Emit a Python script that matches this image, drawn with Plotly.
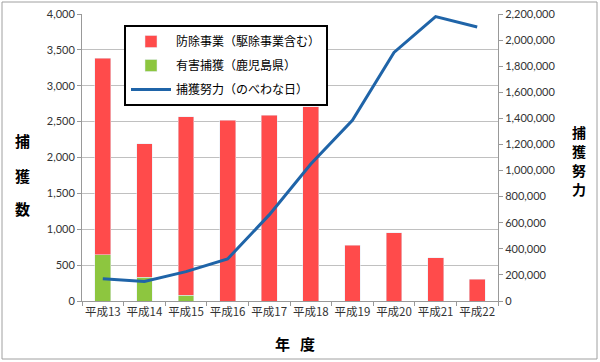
import plotly.graph_objects as go

years = ["平成13", "平成14", "平成15", "平成16", "平成17", "平成18", "平成19", "平成20", "平成21", "平成22"]
bojo = [2740, 1860, 2490, 2520, 2590, 2710, 780, 950, 600, 300]
yugai = [645, 330, 80, 0, 0, 0, 0, 0, 0, 0]
effort = [170000, 150000, 225000, 322000, 660000, 1050000, 1385000, 1905000, 2180000, 2100000]

left_title = ["捕", "獲", "数"]
right_title = ["捕", "獲", "努", "力"]
x_title = ["年", "度"]

JP = "Noto Sans CJK JP"
NUM = "Lato"

# plot area in pixels
L, R, T, B = 82, 498, 14, 301
W, H = R - L, B - T


def px(xp):
    return (xp - L) / W


def py(yp):
    return (B - yp) / H


fig = go.Figure()
fig.add_trace(go.Bar(x=years, y=yugai, name="有害捕獲（鹿児島県）", marker_color="#8DC63F",
                     legendrank=2, legendgroup="b"))
fig.add_trace(go.Bar(x=years, y=bojo, name="防除事業（駆除事業含む）", marker_color="#FF4B4B",
                     legendrank=1, legendgroup="a"))
fig.add_trace(go.Scatter(x=years, y=effort, name="捕獲努力（のべわな日）", mode="lines",
                         line=dict(color="#1F64A8", width=3), yaxis="y2",
                         legendrank=3, legendgroup="c"))

fig.update_layout(
    width=600, height=362,
    margin=dict(l=L, r=600 - R, t=T, b=362 - B, autoexpand=False),
    barmode="stack", bargap=0.62,
    paper_bgcolor="white", plot_bgcolor="white",
    font=dict(family=JP, size=11, color="#333333"),
    showlegend=True,
    legend=dict(x=px(124), y=py(25), xanchor="left", yanchor="top",
                bordercolor="black", borderwidth=2, bgcolor="white",
                font=dict(family=JP, size=12, color="black"),
                tracegroupgap=5, itemwidth=40),
    xaxis=dict(type="category", showline=True, linecolor="#999999", ticks="outside",
               tickson="boundaries", ticklen=4, tickcolor="#999999", tickangle=0,
               automargin=False,
               tickfont=dict(family=JP, size=11.5, color="#333333")),
    yaxis=dict(range=[0, 4000], dtick=500, tickformat=",d", showgrid=True,
               gridcolor="#C0C0C0", showline=True, linecolor="#999999",
               ticks="outside", ticklen=4, tickcolor="#999999", automargin=False,
               tickfont=dict(family=NUM, size=11, color="#333333"), zeroline=False),
    yaxis2=dict(range=[0, 2200000], dtick=200000, tickformat=",d", overlaying="y",
                side="right", showgrid=False, showline=True, linecolor="#999999",
                ticks="outside", ticklen=4, tickcolor="#999999", automargin=False,
                tickfont=dict(family=NUM, size=11, color="#333333"), zeroline=False),
)

for ch, yp in zip(left_title, [140, 175, 208]):
    fig.add_annotation(text="<b>" + ch + "</b>", xref="paper", yref="paper", x=px(22), y=py(yp),
                       xanchor="center", yanchor="middle",
                       showarrow=False, font=dict(family=JP, size=15, color="black"))
for ch, yp in zip(right_title, [132, 151, 170, 189]):
    fig.add_annotation(text="<b>" + ch + "</b>", xref="paper", yref="paper", x=px(579), y=py(yp),
                       xanchor="center", yanchor="middle",
                       showarrow=False, font=dict(family=JP, size=14, color="black"))
for ch, xp in zip(x_title, [282, 307]):
    fig.add_annotation(text="<b>" + ch + "</b>", xref="paper", yref="paper", x=px(xp), y=py(343),
                       xanchor="center", yanchor="middle",
                       showarrow=False, font=dict(family=JP, size=15, color="black"))

fig.add_shape(type="rect", xref="paper", yref="paper", x0=px(2), x1=px(597), y0=py(359), y1=py(2),
              line=dict(color="#A0A0A0", width=1))

fig.write_html("out.html", config={"displayModeBar": False},
               post_script="document.body.style.margin='0';")
